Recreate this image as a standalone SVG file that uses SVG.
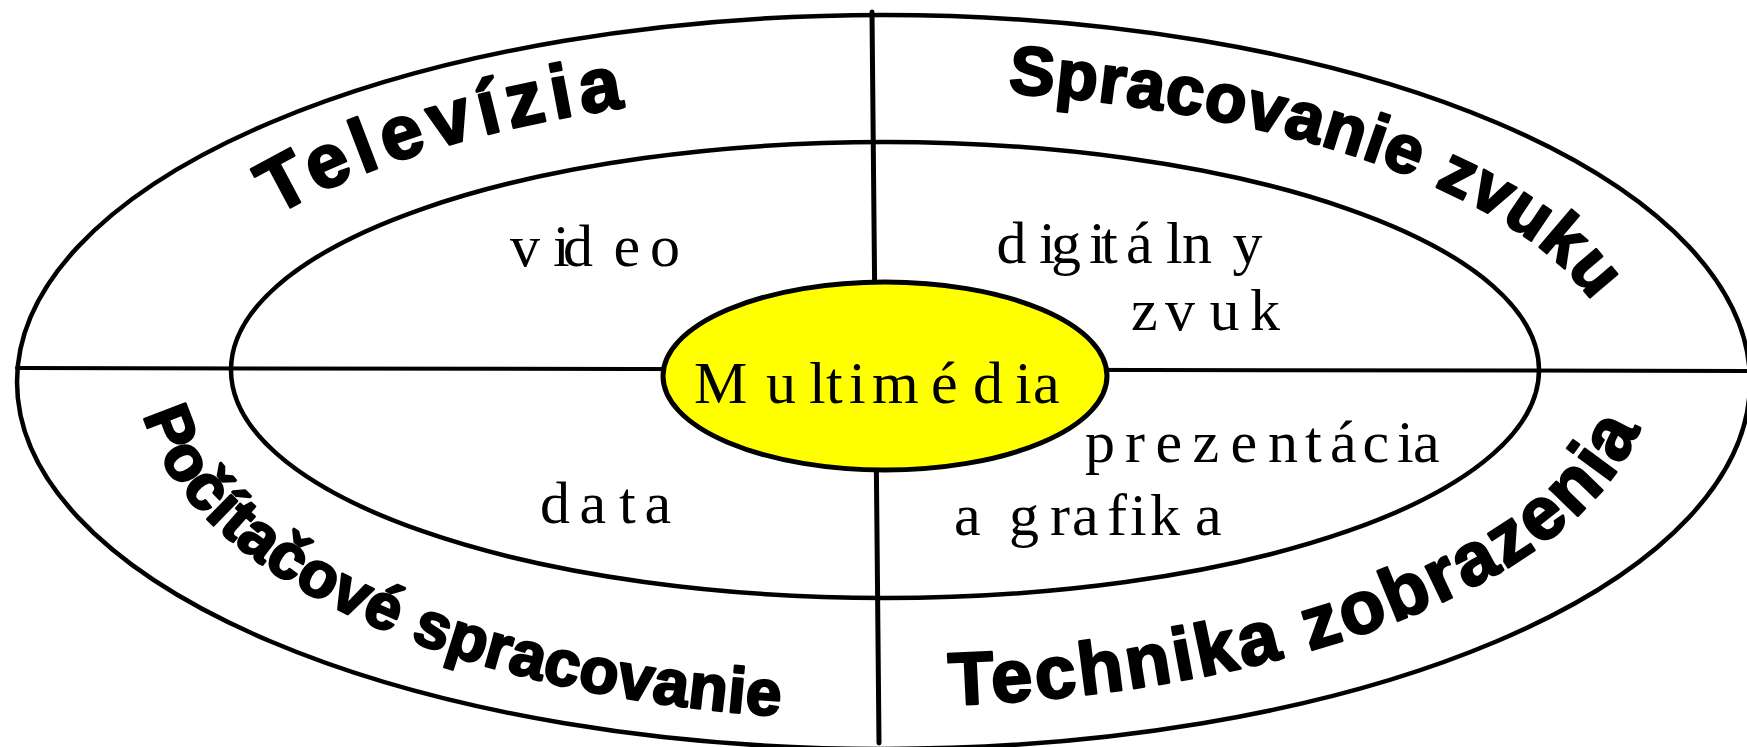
<svg xmlns="http://www.w3.org/2000/svg" xmlns:xlink="http://www.w3.org/1999/xlink" width="1747" height="747" viewBox="0 0 1747 747">
  <style>
    .ring { fill: none; stroke: #000; stroke-width: 4.5; }
    .divider { stroke: #000; stroke-linecap: round; fill: none; }
    .core { fill: #ffff00; stroke: #000; stroke-width: 5; }
    .topic { font-family: "Liberation Serif", "Times New Roman", serif; font-size: 60px; fill: #000; }
    .field { font-family: "Liberation Sans", Arial, sans-serif; font-weight: bold; fill: #000; stroke: #000; stroke-width: 2.5; stroke-linejoin: round; }
  </style>
  <defs>
    <!-- baselines for the curved field names -->
    <path id="arc-tv" d="M 275 216 A 733 287 0 0 1 1617 376"/>
    <path id="arc-sound" d="M 1008 93 A 733 287 0 0 1 1617 376"/>
    <path id="arc-pc" d="M 144 415 A 745 344 0 0 0 1629 376"/>
    <path id="arc-display" d="M 950 705 A 765 330 0 0 0 1649 376"/>
  </defs>

  <rect x="0" y="0" width="1747" height="747" fill="#fff"/>

  <!-- outer and inner rings -->
  <g id="rings">
    <ellipse class="ring" cx="883.5" cy="382" rx="866.5" ry="367"/>
    <ellipse class="ring" cx="885" cy="370" rx="654" ry="228"/>
  </g>

  <!-- quadrant dividers -->
  <g id="connectors">
    <line class="divider" x1="17" y1="368" x2="1747" y2="371" stroke-width="4"/>
    <line class="divider" x1="872" y1="12" x2="879" y2="743" stroke-width="5"/>
  </g>

  <!-- centre -->
  <g id="multimedia">
    <ellipse class="core" cx="885" cy="376" rx="222" ry="94"/>
    <text class="topic" x="694 766 809 826 849 872 931 973 1015 1033" y="403">Multimédia</text>
  </g>

  <!-- upper left: television -->
  <g id="televizia">
    <text class="field" font-size="76"><textPath xlink:href="#arc-tv" href="#arc-tv" textLength="368" lengthAdjust="spacing">Televízia</textPath></text>
    <text class="topic" x="510 553 563 613.5 650" y="266">video</text>
  </g>

  <!-- upper right: sound processing -->
  <g id="spracovanie-zvuku">
    <text class="field" font-size="68"><textPath xlink:href="#arc-sound" href="#arc-sound" textLength="636" lengthAdjust="spacing">Spracovanie zvuku</textPath></text>
    <text class="topic" x="996.5 1039 1051 1089 1101 1126 1166 1182 1232.5" y="263">digitálny</text>
    <text class="topic" x="1131 1165 1209.5 1250" y="330">zvuk</text>
  </g>

  <!-- lower left: computer processing -->
  <g id="pocitacove-spracovanie">
    <text class="field" font-size="64"><textPath xlink:href="#arc-pc" href="#arc-pc" textLength="740" lengthAdjust="spacing">Počítačové spracovanie</textPath></text>
    <text class="topic" x="540 579.5 619 644.5" y="523">data</text>
  </g>

  <!-- lower right: display technology -->
  <g id="technika-zobrazenia">
    <text class="field" font-size="74"><textPath xlink:href="#arc-display" href="#arc-display" textLength="775" lengthAdjust="spacing">Technika zobrazenia</textPath></text>
    <text class="topic" x="1085 1125 1155.5 1192.5 1230.5 1268 1305 1330 1362.5 1397 1413" y="462">prezentácia</text>
    <text class="topic" x="954 990 1009 1050 1072 1107 1130 1150 1195" y="535">a grafika</text>
  </g>
</svg>
